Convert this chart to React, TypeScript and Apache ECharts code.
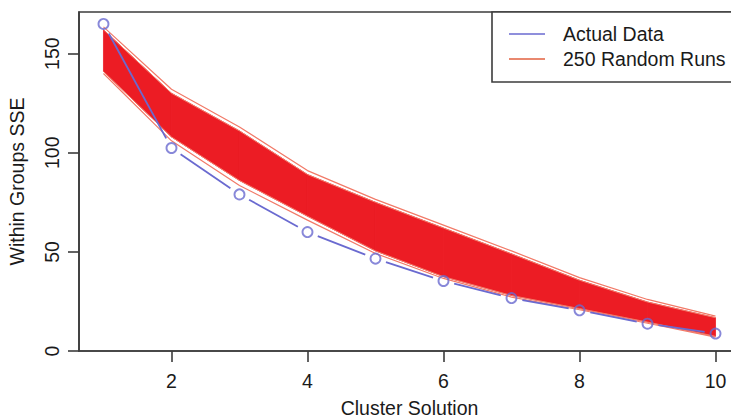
import React, { useEffect, useRef } from "react";
import * as echarts from "echarts";

const clusters = [1, 2, 3, 4, 5, 6, 7, 8, 9, 10];
const actualData = [165, 102.4, 79, 60, 46.6, 35.3, 26.7, 20.5, 13.8, 8.8];
const runsUpper = [162, 130, 111, 89, 75, 62, 49, 35.7, 24.7, 16.8];
const runsLower = [141, 108, 86, 68, 50.5, 37.5, 28, 21.4, 14.6, 7.4];
const runsUpperOuter = [163.5, 132, 113, 91, 76.5, 63.5, 50.5, 37, 26, 17.6];
const runsLowerOuter = [140, 106, 83.5, 66, 49.2, 36.6, 27.2, 20.8, 14, 7];
const xTicks = [2, 4, 6, 8, 10];
const yTicks = [0, 50, 100, 150];

const FONT = "'Liberation Sans', Arial, Helvetica, sans-serif";
const BLUE = "#6a6ad0";
const RED = "#ec1c24";
const SALMON = "#f27a68";
const AXIS = "#3c3c3c";

export default function App() {
  const ref = useRef<HTMLDivElement>(null);
  useEffect(() => {
    if (!ref.current) return;
    const chart = echarts.init(ref.current, null, { renderer: "svg" });
    const pairs = (ys: number[]) => clusters.map((x, i) => [x, ys[i]]);
    const segs = clusters.slice(0, -1).map((x, i) => [x, actualData[i], clusters[i + 1], actualData[i + 1]]);
    const bandSegs = clusters
      .slice(0, -1)
      .map((x, i) => [x, runsLower[i], runsUpper[i], clusters[i + 1], runsLower[i + 1], runsUpper[i + 1]]);
    const GAP = 11;
    chart.setOption({
      animation: false,
      backgroundColor: "#ffffff",
      textStyle: { fontFamily: FONT },
      grid: {
        left: 79,
        top: 12,
        width: 661,
        height: 339,
        show: true,
        borderColor: AXIS,
        borderWidth: 1.6,
        backgroundColor: "transparent",
        containLabel: false,
        outerBoundsMode: "none",
      },
      xAxis: {
        type: "value",
        min: 0.64,
        max: 10.36,
        name: "Cluster Solution",
        nameLocation: "middle",
        nameGap: 47,
        nameTextStyle: { fontSize: 19.5, color: "#1a1a1a", fontFamily: FONT },
        splitLine: { show: false },
        axisLine: { show: true, lineStyle: { color: AXIS, width: 1.6 } },
        axisTick: { show: true, length: 11, lineStyle: { color: AXIS, width: 1.6 }, customValues: xTicks },
        axisLabel: { fontSize: 19.5, color: "#1a1a1a", margin: 20, fontFamily: FONT, customValues: xTicks },
      },
      yAxis: {
        type: "value",
        min: 0,
        max: 171,
        name: "Within Groups SSE",
        nameLocation: "middle",
        nameGap: 52,
        nameTextStyle: { fontSize: 19.5, color: "#1a1a1a", fontFamily: FONT },
        splitLine: { show: false },
        axisLine: { show: true, lineStyle: { color: AXIS, width: 1.6 } },
        axisTick: { show: true, length: 11, lineStyle: { color: AXIS, width: 1.6 }, customValues: yTicks },
        axisLabel: { fontSize: 19.5, color: "#1a1a1a", margin: 17, rotate: 90, fontFamily: FONT, customValues: yTicks },
      },
      series: [
        {
          name: "250 Random Runs",
          type: "custom",
          data: bandSegs,
          renderItem: (params: any, api: any) => {
            const a = api.coord([api.value(0), api.value(1)]);
            const b = api.coord([api.value(3), api.value(4)]);
            const c = api.coord([api.value(3), api.value(5)]);
            const d = api.coord([api.value(0), api.value(2)]);
            return {
              type: "polygon",
              shape: { points: [a, b, c, d] },
              style: { fill: RED, stroke: RED, lineWidth: 0.8 },
            };
          },
          z: 2,
        },
        { type: "line", data: pairs(runsUpper), symbol: "none", lineStyle: { color: SALMON, width: 1 }, z: 3 },
        { type: "line", data: pairs(runsLower), symbol: "none", lineStyle: { color: SALMON, width: 1 }, z: 3 },
        { type: "line", data: pairs(runsUpperOuter), symbol: "none", lineStyle: { color: SALMON, width: 1.2 }, z: 3 },
        { type: "line", data: pairs(runsLowerOuter), symbol: "none", lineStyle: { color: SALMON, width: 1.2 }, z: 3 },
        {
          name: "Actual Data",
          type: "custom",
          data: segs,
          renderItem: (params: any, api: any) => {
            const p1 = api.coord([api.value(0), api.value(1)]);
            const p2 = api.coord([api.value(2), api.value(3)]);
            const dx = p2[0] - p1[0];
            const dy = p2[1] - p1[1];
            const len = Math.sqrt(dx * dx + dy * dy);
            if (len <= 2 * GAP) return null;
            const ux = dx / len;
            const uy = dy / len;
            return {
              type: "line",
              shape: { x1: p1[0] + ux * GAP, y1: p1[1] + uy * GAP, x2: p2[0] - ux * GAP, y2: p2[1] - uy * GAP },
              style: { stroke: BLUE, lineWidth: 1.8 },
            };
          },
          z: 5,
        },
        {
          type: "scatter",
          data: pairs(actualData),
          symbol: "circle",
          symbolSize: 10,
          itemStyle: { color: "rgba(0,0,0,0)", borderColor: BLUE, borderWidth: 1.9 },
          z: 6,
        },
      ],
      graphic: [
        { type: "rect", shape: { x: 492, y: 12, width: 260, height: 70 }, style: { fill: "#ffffff", stroke: AXIS, lineWidth: 1.6 }, z: 10 },
        { type: "line", shape: { x1: 509, y1: 34, x2: 545, y2: 34 }, style: { stroke: BLUE, lineWidth: 1.5 }, z: 11 },
        { type: "line", shape: { x1: 509, y1: 59, x2: 545, y2: 59 }, style: { stroke: "#e2603f", lineWidth: 1.5 }, z: 11 },
        { type: "text", x: 563, y: 34, style: { text: "Actual Data", font: `19.5px ${FONT}`, fill: "#1a1a1a", verticalAlign: "middle" }, z: 11 },
        { type: "text", x: 563, y: 59, style: { text: "250 Random Runs", font: `19.5px ${FONT}`, fill: "#1a1a1a", verticalAlign: "middle" }, z: 11 },
      ],
    });
    return () => chart.dispose();
  }, []);
  return <div ref={ref} style={{ position: "fixed", left: 0, top: 0, width: 731, height: 420 }} />;
}
